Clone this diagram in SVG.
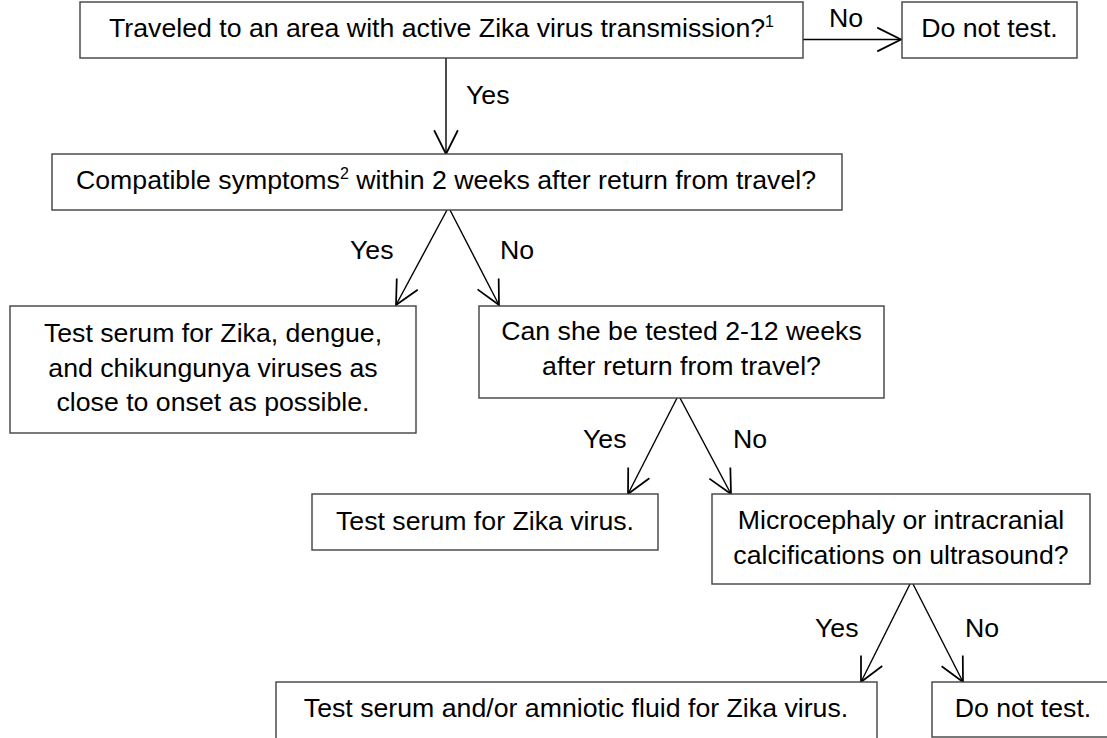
<svg xmlns="http://www.w3.org/2000/svg" width="1107" height="738" viewBox="0 0 1107 738">
  <style>
    .box { fill: #ffffff; stroke: #404040; stroke-width: 1.4; }
    .t { font-family: "Liberation Sans", Arial, sans-serif; font-size: 26.7px; fill: #000000; text-anchor: middle; }
    .lbl { font-family: "Liberation Sans", Arial, sans-serif; font-size: 26.7px; fill: #000000; }
    .sup { font-size: 16px; }
    .conn { stroke: #000000; stroke-width: 1.4; fill: none; marker-end: url(#arr); }
  </style>
  <defs>
    <marker id="arr" markerUnits="userSpaceOnUse" markerWidth="30" markerHeight="30" viewBox="-22 -12 24 24" refX="0" refY="0" orient="auto">
      <path d="M-19,-9.5 L0,0 L-19,9.5" fill="none" stroke="#000000" stroke-width="1.4"/>
    </marker>
  </defs>
  <rect width="1107" height="738" fill="#ffffff"/>

  <g id="connectors">
    <line class="conn" x1="446" y1="58" x2="446" y2="154"/>
    <line class="conn" x1="803" y1="39.5" x2="901" y2="39.5"/>
    <line class="conn" x1="447" y1="210" x2="396" y2="305"/>
    <line class="conn" x1="450" y1="210" x2="499" y2="305"/>
    <line class="conn" x1="677" y1="398" x2="628" y2="494"/>
    <line class="conn" x1="680" y1="398" x2="731" y2="494"/>
    <line class="conn" x1="910" y1="584" x2="861" y2="682"/>
    <line class="conn" x1="913" y1="584" x2="963" y2="682"/>
    <text class="lbl" x="829" y="27">No</text>
    <text class="lbl" x="466" y="104">Yes</text>
    <text class="lbl" x="350" y="259">Yes</text>
    <text class="lbl" x="500" y="259">No</text>
    <text class="lbl" x="583" y="448">Yes</text>
    <text class="lbl" x="733" y="448">No</text>
    <text class="lbl" x="815" y="637">Yes</text>
    <text class="lbl" x="965" y="637">No</text>
  </g>

  <g id="n_travel">
    <rect class="box" x="80" y="2" width="723" height="56"/>
    <text class="t" x="441.5" y="37">Traveled to an area with active Zika virus transmission?<tspan class="sup" dy="-10">1</tspan></text>
  </g>
  <g id="n_donottest1">
    <rect class="box" x="902" y="2" width="175" height="56"/>
    <text class="t" x="989.5" y="37">Do not test.</text>
  </g>
  <g id="n_symptoms">
    <rect class="box" x="52" y="154" width="790" height="56"/>
    <text class="t" x="446" y="189">Compatible symptoms<tspan class="sup" dy="-10">2</tspan><tspan dy="10"> within 2 weeks after return from travel?</tspan></text>
  </g>
  <g id="n_testall">
    <rect class="box" x="10" y="306" width="406" height="127"/>
    <text class="t" x="213" y="342">Test serum for Zika, dengue,</text>
    <text class="t" x="213" y="376.5">and chikungunya viruses as</text>
    <text class="t" x="213" y="411">close to onset as possible.</text>
  </g>
  <g id="n_cantest">
    <rect class="box" x="479" y="306" width="405" height="92"/>
    <text class="t" x="681.5" y="340">Can she be tested 2-12 weeks</text>
    <text class="t" x="681.5" y="375">after return from travel?</text>
  </g>
  <g id="n_testzika">
    <rect class="box" x="312" y="494" width="346" height="56"/>
    <text class="t" x="485" y="530">Test serum for Zika virus.</text>
  </g>
  <g id="n_micro">
    <rect class="box" x="712" y="494" width="378" height="90"/>
    <text class="t" x="901" y="528.5">Microcephaly or intracranial</text>
    <text class="t" x="901" y="563.5">calcifications on ultrasound?</text>
  </g>
  <g id="n_testfluid">
    <rect class="box" x="276" y="682" width="601" height="60"/>
    <text class="t" x="576" y="716.5">Test serum and/or amniotic fluid for Zika virus.</text>
  </g>
  <g id="n_donottest2">
    <rect class="box" x="932" y="682" width="182" height="55"/>
    <text class="t" x="1023" y="716.5">Do not test.</text>
  </g>
</svg>
